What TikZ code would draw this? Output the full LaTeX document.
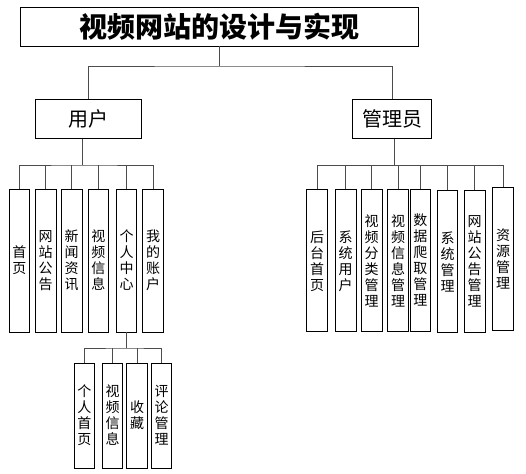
\documentclass[tikz,border=0pt]{standalone}
\usepackage{fontspec}
\newfontfamily\cjk{Noto Sans CJK SC}
\begin{document}
\begin{tikzpicture}[x=1pt,y=-1pt,
  box/.style={draw=black,line width=0.9pt,inner sep=0pt,align=center},
  leaf/.style={box,minimum width=20.5pt,minimum height=143pt,font=\cjk\fontsize{14}{16}\selectfont},
  subleaf/.style={box,minimum width=20.5pt,minimum height=105pt,font=\cjk\fontsize{14}{16}\selectfont},
  mid/.style={box,minimum height=39pt,font=\cjk\fontsize{20}{22}\selectfont},
  conn/.style={draw=black!70,line width=0.9pt}]
\useasboundingbox (0,0) rectangle (526,473);
\node[box,minimum width=398pt,minimum height=39pt,font=\cjk\bfseries\fontsize{28}{30}\selectfont] (title) at (219,26.5) {视频网站的设计与实现};
\node[mid,minimum width=106pt] (user) at (88.3,118.7) {用户};
\node[mid,minimum width=79pt] (admin) at (392.3,118.7) {管理员};
% user children
\node[leaf] (u1) at (19.3,260.5) {首\\页};
\node[leaf] (u2) at (45.7,260.5) {网\\站\\公\\告};
\node[leaf] (u3) at (71.7,260.5) {新\\闻\\资\\讯};
\node[leaf] (u4) at (98.3,260.5) {视\\频\\信\\息};
\node[leaf] (u5) at (126.5,260.5) {个\\人\\中\\心};
\node[leaf] (u6) at (153,260.5) {我\\的\\账\\户};
% personal center children
\node[subleaf] (p1) at (84.3,415.5) {个\\人\\首\\页};
\node[subleaf] (p2) at (112.5,415.5) {视\\频\\信\\息};
\node[subleaf] (p3) at (137,415.5) {收\\藏};
\node[subleaf] (p4) at (161.5,415.5) {评\\论\\管\\理};
% admin children
\node[leaf,minimum height=142pt] (a1) at (317,260.8) {后\\台\\首\\页};
\node[leaf,minimum height=142pt] (a2) at (345.7,260.8) {系\\统\\用\\户};
\node[leaf,minimum height=142pt,minimum width=21pt] (a3) at (371.5,260.8) {视\\频\\分\\类\\管\\理};
\node[leaf,minimum height=142pt] (a4) at (398,260.8) {视\\频\\信\\息\\管\\理};
\node[leaf,minimum height=142pt] (a5) at (420.3,260.2) {数\\据\\爬\\取\\管\\理};
\node[leaf,minimum height=142pt] (a6) at (447.5,261.7) {系\\统\\管\\理};
\node[leaf,minimum height=142pt] (a7) at (474.7,261.7) {网\\站\\公\\告\\管\\理};
\node[leaf,minimum height=143pt] (a8) at (503,259.4) {资\\源\\管\\理};
% connectors
\coordinate (b0) at (219,66);
\draw[conn] (title.south) -- (b0);
\draw[conn] (user.north) |- (b0) -| (admin.north);
\coordinate (b1) at (82,165);
\draw[conn] (b1 |- user.south) -- (b1);
\draw[conn] (u1.north) |- (b1) -| (u6.north);
\foreach \n in {u2,u3,u4,u5} \draw[conn] (\n.north) -- (\n.north |- b1);
\coordinate (b2) at (394,165.7);
\draw[conn] (b2 |- admin.south) -- (b2);
\draw[conn] (a1.north) |- (b2) -| (a8.north);
\foreach \n in {a2,a3,a4,a5,a6,a7} \draw[conn] (\n.north) -- (\n.north |- b2);
\coordinate (b3) at (126.5,348);
\draw[conn] (u5.south) -- (b3);
\draw[conn] (p1.north) |- (b3) -| (p4.north);
\foreach \n in {p2,p3} \draw[conn] (\n.north) -- (\n.north |- b3);
\end{tikzpicture}
\end{document}
